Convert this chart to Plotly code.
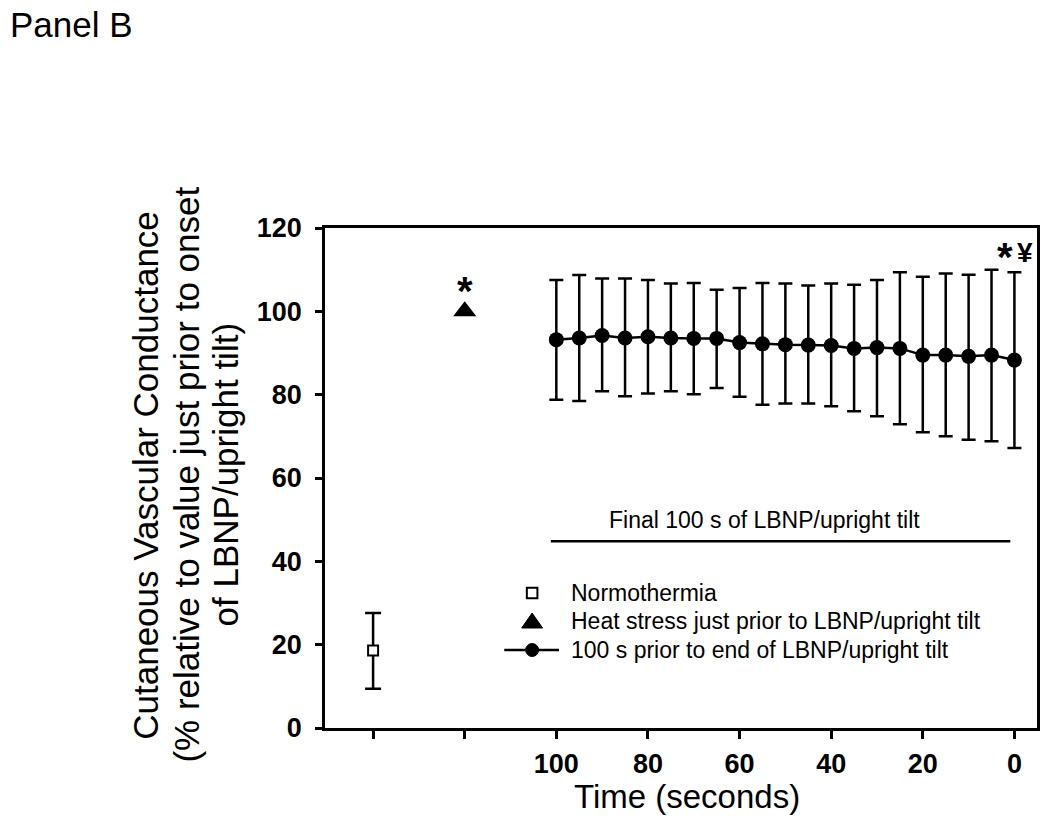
import plotly.graph_objects as go

# ---------------- data ----------------
time_s = [100, 95, 90, 85, 80, 75, 70, 65, 60, 55, 50, 45, 40, 35, 30, 25, 20, 15, 10, 5, 0]
cvc_mean = [93.2, 93.6, 94.2, 93.6, 93.9, 93.6, 93.5, 93.5, 92.5, 92.2, 92.0,
            91.9, 91.8, 91.1, 91.3, 91.1, 89.5, 89.5, 89.2, 89.5, 88.3]
cvc_upper = [107.5, 108.7, 107.9, 107.9, 107.5, 106.7, 106.8, 105.2, 105.6, 106.8, 106.7,
             106.2, 106.7, 106.4, 107.5, 109.4, 108.3, 109.1, 108.8, 110.0, 109.4]
cvc_lower = [78.8, 78.5, 80.8, 79.6, 80.3, 80.8, 80.1, 81.6, 79.5, 77.6, 77.9,
             77.9, 77.2, 76.0, 74.8, 72.9, 71.0, 70.0, 69.2, 68.8, 67.2]

normo_x = [140]
normo_mean = [18.6]
normo_upper = [27.6]
normo_lower = [9.4]

heat_x = [120]
heat_mean = [100.0]

x_tickvals = [140, 120, 100, 80, 60, 40, 20, 0]
x_ticktext = ["", "", "100", "80", "60", "40", "20", "0"]
y_tickvals = [0, 20, 40, 60, 80, 100, 120]

legend_labels = ["Normothermia",
                 "Heat stress just prior to LBNP/upright tilt",
                 "100 s prior to end of LBNP/upright tilt"]

y_title_lines = ["Cutaneous Vascular Conductance",
                 "(% relative to value just prior to onset",
                 "of LBNP/upright tilt)"]

# ---------------- layout geometry ----------------
W_FIG, H_FIG = 1050, 834
L, R, T, B = 325, 1040, 228, 728
PW, PH = R - L, B - T


def px_x(px):
    return (px - L) / PW


def px_y(py):
    return (B - py) / PH


FONT = "Liberation Sans, Arial, Helvetica, sans-serif"

fig = go.Figure()

# Normothermia
fig.add_trace(go.Scatter(
    x=normo_x, y=normo_mean, mode="markers", name=legend_labels[0],
    marker=dict(symbol="square", size=10, color="white", line=dict(color="black", width=2)),
    error_y=dict(type="data", symmetric=False,
                 array=[u - m for u, m in zip(normo_upper, normo_mean)],
                 arrayminus=[m - l for m, l in zip(normo_mean, normo_lower)],
                 color="black", thickness=2.5, width=8),
    showlegend=False,
))

# Heat stress
fig.add_trace(go.Scatter(
    x=heat_x, y=heat_mean, mode="markers", name=legend_labels[1],
    marker=dict(symbol="triangle-up", size=20, color="black"),
    showlegend=False,
))

# Final 100 s series
fig.add_trace(go.Scatter(
    x=time_s, y=cvc_mean, mode="lines+markers", name=legend_labels[2],
    line=dict(color="black", width=2.5),
    marker=dict(symbol="circle", size=15, color="black"),
    error_y=dict(type="data", symmetric=False,
                 array=[u - m for u, m in zip(cvc_upper, cvc_mean)],
                 arrayminus=[m - l for m, l in zip(cvc_mean, cvc_lower)],
                 color="black", thickness=2.5, width=7),
    showlegend=False,
))

annotations = [
    dict(text="Panel B", xref="paper", yref="paper", x=px_x(7), y=px_y(24),
         xanchor="left", yanchor="middle", showarrow=False,
         font=dict(family=FONT, size=35, color="black")),
    dict(text="Time (seconds)", xref="paper", yref="paper", x=px_x(688.5), y=px_y(796),
         xanchor="center", yanchor="middle", showarrow=False,
         font=dict(family=FONT, size=33, color="black")),
    dict(text="Final 100 s of LBNP/upright tilt", xref="x", yref="y", x=54.5, y=50,
         xanchor="center", yanchor="middle", showarrow=False,
         font=dict(family=FONT, size=23, color="black")),
    dict(text="*", xref="x", yref="y", x=120, y=105,
         xanchor="center", yanchor="middle", showarrow=False,
         font=dict(family=FONT, size=40, color="black", weight="bold")),
    dict(text="*", xref="x", yref="y", x=2.0, y=113,
         xanchor="center", yanchor="middle", showarrow=False,
         font=dict(family=FONT, size=40, color="black", weight="bold")),
    dict(text="¥", xref="x", yref="y", x=-2.3, y=114.1,
         xanchor="center", yanchor="middle", showarrow=False,
         font=dict(family=FONT, size=28, color="black", weight="bold")),
]

# y-axis title, three rotated lines
for line_txt, cx in zip(y_title_lines, [144, 185, 225]):
    annotations.append(dict(text=line_txt, xref="paper", yref="paper", x=px_x(cx), y=px_y(475),
                            textangle=-90, xanchor="center", yanchor="middle", showarrow=False,
                            font=dict(family=FONT, size=35, color="black")))

# manual legend text
legend_rows = [593, 621, 650]
for lbl, py in zip(legend_labels, legend_rows):
    annotations.append(dict(text=lbl, xref="paper", yref="paper", x=px_x(570), y=px_y(py),
                            xanchor="left", yanchor="middle", showarrow=False,
                            font=dict(family=FONT, size=23, color="black")))

r0, r1, r2 = legend_rows
shapes = [
    # bracket line under "Final 100 s" label
    dict(type="line", xref="x", yref="y", x0=101.2, x1=0.9, y0=44.8, y1=44.8,
         line=dict(color="black", width=2.5)),
    # legend key: open square
    dict(type="rect", xref="paper", yref="paper",
         x0=px_x(527.7), x1=px_x(538.3), y0=px_y(r0 + 5.3), y1=px_y(r0 - 5.3),
         line=dict(color="black", width=2), fillcolor="white"),
    # legend key: triangle
    dict(type="path", xref="paper", yref="paper",
         path=(f"M {px_x(522.5)},{px_y(r1 + 7)} L {px_x(543.5)},{px_y(r1 + 7)} "
               f"L {px_x(533)},{px_y(r1 - 8)} Z"),
         line=dict(color="black", width=1), fillcolor="black"),
    # legend key: line + circle
    dict(type="line", xref="paper", yref="paper",
         x0=px_x(505), x1=px_x(560), y0=px_y(r2), y1=px_y(r2),
         line=dict(color="black", width=2.5)),
    dict(type="circle", xref="paper", yref="paper",
         x0=px_x(526.5), x1=px_x(539.5), y0=px_y(r2 + 6.5), y1=px_y(r2 - 6.5),
         line=dict(color="black", width=1), fillcolor="black"),
]

fig.update_layout(
    width=W_FIG, height=H_FIG,
    margin=dict(l=L, r=W_FIG - R, t=T, b=H_FIG - B, pad=0),
    paper_bgcolor="white", plot_bgcolor="white",
    font=dict(family=FONT, color="black"),
    showlegend=False,
    annotations=annotations,
    shapes=shapes,
)

fig.update_xaxes(
    range=[150.5, -4.93], tickmode="array", tickvals=x_tickvals, ticktext=x_ticktext,
    ticks="outside", ticklen=8, tickwidth=2.5, tickcolor="black",
    showline=True, linewidth=2.5, linecolor="black", mirror=True,
    showgrid=False, zeroline=False, ticklabelstandoff=2,
    tickfont=dict(family=FONT, size=27, color="black", weight="bold"),
)
fig.update_yaxes(
    range=[0, 120], tickmode="array", tickvals=y_tickvals,
    ticks="outside", ticklen=7, tickwidth=2.5, tickcolor="black",
    showline=True, linewidth=2.5, linecolor="black", mirror=True,
    showgrid=False, zeroline=False, ticklabelstandoff=8,
    tickfont=dict(family=FONT, size=27, color="black", weight="bold"),
)

fig.write_html("out.html", config={"displayModeBar": False},
               post_script="document.body.style.margin='0px';document.body.style.overflow='hidden';")
